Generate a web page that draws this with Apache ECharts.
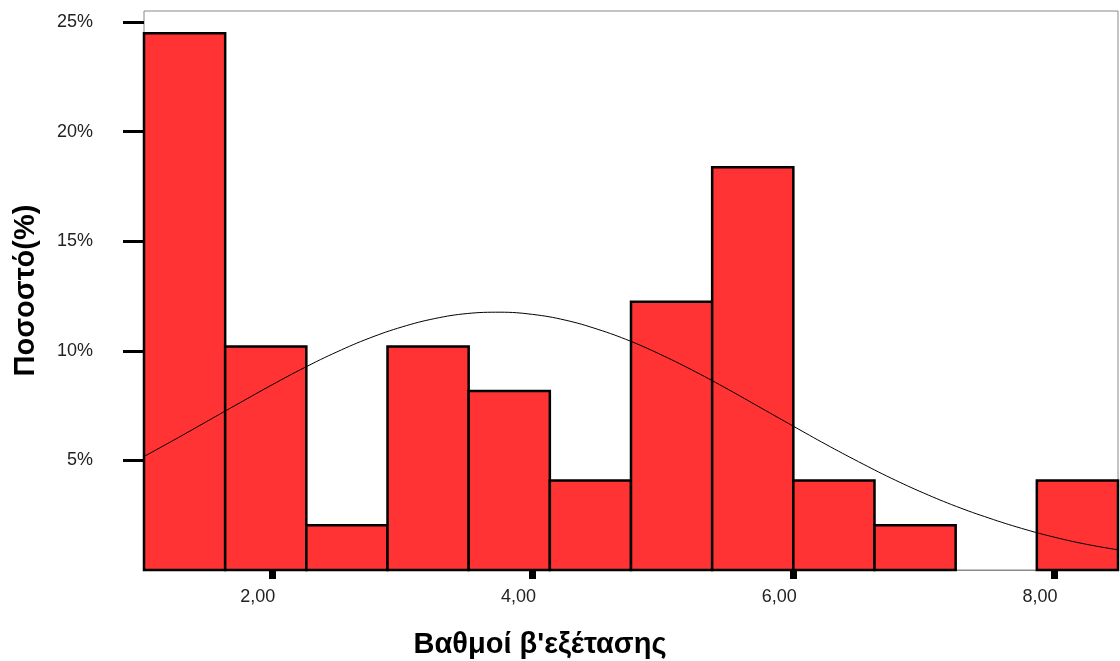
<!DOCTYPE html>
<html>
<head>
<meta charset="utf-8">
<script src="https://cdn.jsdelivr.net/npm/echarts@6/dist/echarts.min.js"></script>
<style>
  html, body { margin: 0; padding: 0; background: #fff; }
  #main { width: 1120px; height: 661px; }
</style>
</head>
<body>
<div id="main"></div>
<script>
// histogram bins (edges) and percentage of students per bin
var binEdges = [1.02, 1.6425, 2.265, 2.8875, 3.51, 4.1325, 4.755, 5.3775, 6.0, 6.6225, 7.245, 7.8675, 8.49];
var percents = [24.49, 10.20, 2.04, 10.20, 8.16, 4.08, 12.24, 18.37, 4.08, 2.04, 0, 4.08];

// normal curve
var curveX = [1.02, 1.25, 1.5, 1.75, 2.0, 2.25, 2.5, 2.75, 3.0, 3.25, 3.5, 3.75, 4.0, 4.25, 4.5, 4.75,
              5.0, 5.25, 5.5, 5.75, 6.0, 6.25, 6.5, 6.75, 7.0, 7.25, 7.5, 7.75, 8.0, 8.25, 8.49];
var curveY = [5.18, 5.93, 6.77, 7.61, 8.44, 9.23, 9.95, 10.58, 11.09, 11.47, 11.70, 11.76, 11.66, 11.40, 10.98, 10.44,
              9.78, 9.04, 8.24, 7.40, 6.56, 5.73, 4.94, 4.19, 3.51, 2.90, 2.37, 1.90, 1.50, 1.17, 0.92];

var xTicks = [2, 4, 6, 8];
var yTicks = [5, 10, 15, 20, 25];

var barData = [];
for (var i = 0; i < percents.length; i++) {
  if (percents[i] > 0) barData.push([binEdges[i], binEdges[i + 1], percents[i]]);
}
var lineData = curveX.map(function (x, i) { return [x, curveY[i]]; });

var chart = echarts.init(document.getElementById('main'));

chart.setOption({
  animation: false,
  backgroundColor: '#fff',
  textStyle: { fontFamily: 'Liberation Sans, Arial, sans-serif' },
  grid: {
    left: 144, right: 2, top: 11, bottom: 91,
    outerBoundsMode: 'none',
    show: true, borderColor: '#888', borderWidth: 1, backgroundColor: 'transparent'
  },
  xAxis: {
    type: 'value',
    min: binEdges[0],
    max: binEdges[binEdges.length - 1],
    name: "Βαθμοί β'εξέτασης",
    nameLocation: 'middle',
    nameGap: 60,
    nameTextStyle: {
      fontSize: 29, fontWeight: 'bold', color: '#000',
      padding: [0, 182, 0, 0]
    },
    splitLine: { show: false },
    axisLine: { show: true, lineStyle: { color: '#888', width: 1 } },
    axisTick: {
      show: true, customValues: xTicks, length: 9,
      lineStyle: { color: '#000', width: 7 }
    },
    axisLabel: {
      customValues: xTicks,
      margin: 18,
      fontSize: 18,
      color: '#222',
      padding: [0, 28, 0, 0],
      formatter: function (v) { return v.toFixed(2).replace('.', ','); }
    }
  },
  yAxis: {
    type: 'value',
    min: 0,
    max: 25.5,
    name: 'Ποσοστό(%)',
    nameLocation: 'middle',
    nameGap: 104,
    nameTextStyle: { fontSize: 29, fontWeight: 'bold', color: '#000' },
    splitLine: { show: false },
    axisLine: { show: false },
    axisTick: {
      show: true, customValues: yTicks, length: 21,
      lineStyle: { color: '#000', width: 3 }
    },
    axisLabel: {
      customValues: yTicks,
      margin: 51,
      fontSize: 18,
      color: '#222',
      formatter: function (v) { return v + '%'; }
    }
  },
  series: [
    {
      type: 'custom',
      data: barData,
      encode: { x: [0, 1], y: 2 },
      renderItem: function (params, api) {
        var p0 = api.coord([api.value(0), api.value(2)]);
        var p1 = api.coord([api.value(1), 0]);
        return {
          type: 'rect',
          shape: { x: p0[0], y: p0[1], width: p1[0] - p0[0], height: p1[1] - p0[1] },
          style: { fill: '#FF3333', stroke: '#000', lineWidth: 2.5 }
        };
      },
      z: 2
    },
    {
      type: 'line',
      data: lineData,
      smooth: 0.4,
      symbol: 'none',
      lineStyle: { color: '#000', width: 1 },
      z: 3
    }
  ]
});
</script>
</body>
</html>
